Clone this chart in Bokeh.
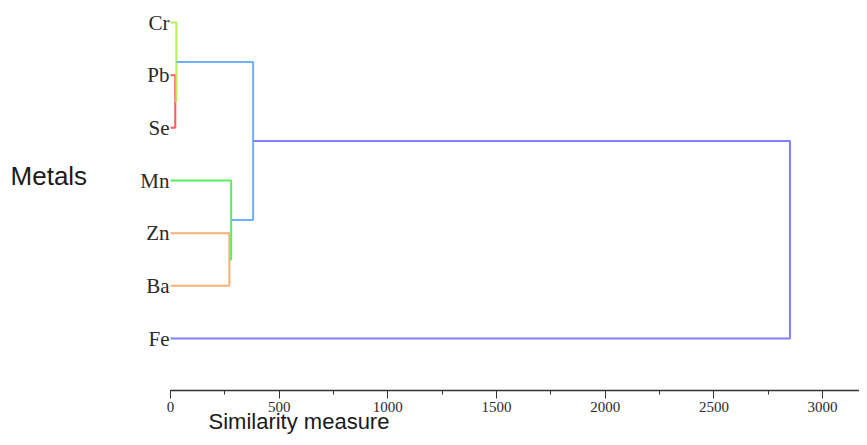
from bokeh.plotting import figure
from bokeh.models import Range1d, SingleIntervalTicker, ColumnDataSource
from bokeh.core.properties import value
from bokeh.embed import file_html
from bokeh.resources import INLINE

# ---- data ----
leaves = ["Cr", "Pb", "Se", "Mn", "Zn", "Ba", "Fe"]
# merges: (left child, right child, similarity distance)
merge_left = ["Pb", "Cr", "Zn", "Mn", "C2", "C5"]
merge_right = ["Se", "C1", "Ba", "C3", "C4", "Fe"]
merge_height = [22, 27, 271, 279, 380, 2850]
merge_color = ["#ff5a5a", "#b4f25c", "#ffb070", "#5cee5c", "#70b0ff", "#7f7fff"]
x_label = "Similarity measure"
y_label = "Metals"

# ---- build dendrogram geometry from the linkage ----
n = len(leaves)
pos = {name: float(n - 1 - i) for i, name in enumerate(leaves)}
hgt = {name: 0.0 for name in leaves}
xs, ys = [], []
for k, (a, b, h) in enumerate(zip(merge_left, merge_right, merge_height)):
    ya, yb = pos[a], pos[b]
    xs.append([hgt[a], h, h, hgt[b]])
    ys.append([ya, ya, yb, yb])
    cname = "C%d" % (k + 1)
    pos[cname] = (ya + yb) / 2.0
    hgt[cname] = h

p = figure(width=859, height=437, output_backend="svg", toolbar_location=None,
           x_range=Range1d(-782.2, 3170.0), y_range=Range1d(-1.879, 6.418),
           y_axis_location=None, min_border=0)
p.outline_line_color = None
p.xgrid.visible = False
p.ygrid.visible = False
p.background_fill_color = "white"
p.border_fill_color = "white"

src = ColumnDataSource(dict(xs=xs, ys=ys, color=merge_color))
p.multi_line(xs="xs", ys="ys", line_color="color", line_width=2, source=src)

p.text(x=[0] * n, y=[n - 1 - i for i in range(n)], text=leaves,
       text_align="right", text_baseline="middle", x_offset=-1,
       text_font=value("Liberation Serif"), text_font_size="21px", text_color="#2a2a2a")

p.text(x=[-736], y=[3.095], text=[y_label], text_align="left", text_baseline="middle",
       text_font=value("Liberation Sans"), text_font_size="26px", text_color="#1a1a1a")

p.text(x=[591], y=[-1.576], text=[x_label], text_align="center", text_baseline="middle",
       text_font=value("Liberation Sans"), text_font_size="22px", text_color="#1a1a1a")

ax = p.xaxis[0]
ax.fixed_location = -0.987
ax.ticker = SingleIntervalTicker(interval=500, num_minor_ticks=2)
ax.bounds = (0, 3170)
ax.axis_line_color = "#333333"
ax.axis_line_width = 1.5
ax.major_tick_line_color = "#333333"
ax.minor_tick_line_color = "#333333"
ax.major_tick_in = 0
ax.major_tick_out = 8
ax.minor_tick_in = 0
ax.minor_tick_out = 4
ax.major_label_standoff = 3
ax.major_label_text_font = "Liberation Serif"
ax.major_label_text_font_size = "15px"
ax.major_label_text_color = "#2a2a2a"

open("out.html", "w").write(file_html(p, INLINE))
